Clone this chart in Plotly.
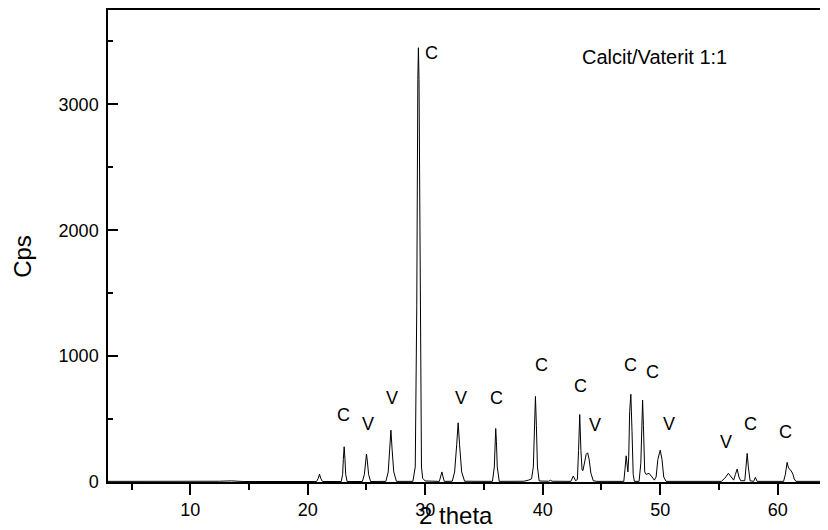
import plotly.graph_objects as go

# Diffractogram samples (2 theta in degrees, counts per second)
two_theta = [
    3.0, 6.0, 10.0, 12.5, 13.5, 14.5, 20.7,
    20.75, 20.9, 21.0, 21.1, 21.25,
    22.85, 22.97, 23.03, 23.1, 23.17, 23.23, 23.35,
    24.65, 24.82, 24.92, 25.0, 25.08, 25.18, 25.35,
    26.65, 26.85, 26.98, 27.08, 27.18, 27.32, 27.55,
    28.95, 29.15, 29.28, 29.37, 29.42, 29.47, 29.56, 29.68, 29.78, 29.85, 30.0,
    31.2, 31.32, 31.42, 31.52, 31.62,
    32.3, 32.5, 32.68, 32.8, 32.92, 33.1, 33.35,
    35.72, 35.88, 35.95, 36.0, 36.06, 36.13, 36.3,
    38.4, 38.8, 39.05, 39.2, 39.3, 39.38, 39.46, 39.55, 39.7,
    40.5, 40.65, 40.8,
    42.4, 42.6, 42.8,
    42.95, 43.05, 43.15, 43.25, 43.35, 43.42, 43.55, 43.7, 43.82, 43.95, 44.1, 44.3, 44.6,
    46.9, 47.0, 47.1, 47.25, 47.32, 47.4, 47.5, 47.6, 47.7, 47.8,
    48.2, 48.35, 48.45, 48.5, 48.57, 48.68, 48.8, 49.05, 49.3, 49.5, 49.65, 49.8, 50.0, 50.15, 50.3, 50.5,
    55.2, 55.5, 55.8, 56.05, 56.25, 56.4, 56.55, 56.7, 56.85, 57.2, 57.3, 57.4, 57.5, 57.65, 57.95, 58.1, 58.25,
    60.5, 60.65, 60.8, 60.92, 61.05, 61.2, 61.3, 61.4, 61.55, 64.3,
]
cps = [
    5, 4, 5, 6, 9, 4, 4,
    4, 30, 63, 30, 4,
    4, 60, 180, 280, 180, 60, 4,
    4, 60, 160, 222, 160, 60, 4,
    5, 80, 260, 412, 260, 80, 5,
    5, 120, 1400, 3200, 3450, 3200, 1400, 120, 30, 20, 8,
    5, 40, 80, 40, 5,
    6, 80, 300, 470, 300, 80, 6,
    5, 120, 320, 425, 320, 120, 5,
    6, 15, 25, 120, 450, 680, 450, 120, 8,
    6, 14, 6,
    5, 48, 10,
    20, 250, 536, 250, 95, 90, 150, 220, 232, 180, 70, 10, 5,
    5, 100, 208, 80, 200, 560, 697, 400, 60, 5,
    5, 150, 560, 650, 450, 80, 60, 69, 40, 15, 40, 180, 253, 180, 40, 5,
    5, 30, 69, 40, 15, 60, 103, 40, 10, 10, 120, 227, 120, 10, 5, 37, 5,
    5, 60, 156, 110, 100, 80, 60, 25, 5, 5,
]

# Phase labels (C = Calcit, V = Vaterit)
label_text = ["C", "C", "V", "V", "V", "C", "C", "C", "V", "C", "C", "V", "V", "C", "C"]
label_x = [30.51, 23.05, 25.09, 27.17, 33.04, 36.04, 39.93, 43.25, 44.47, 47.45, 49.32, 50.71, 55.59, 57.72, 60.70]
label_y = [3405, 536, 457, 667, 667, 667, 932, 762, 451, 926, 871, 459, 314, 457, 394]

sample_title = "Calcit/Vaterit 1:1"
x_title = "2 theta"
y_title = "Cps"
x_range = [3.0, 64.28]
y_range = [0, 3750]

FONT = "Liberation Sans, Arial, sans-serif"

fig = go.Figure()
fig.add_trace(go.Scatter(
    x=two_theta, y=cps, mode="lines",
    line=dict(color="black", width=1),
    showlegend=False, hoverinfo="x+y",
))

annotations = []
for t, xv, yv in zip(label_text, label_x, label_y):
    annotations.append(dict(
        x=xv, y=yv, xref="x", yref="y", text=t, showarrow=False,
        font=dict(family=FONT, size=18, color="black"),
        xanchor="center", yanchor="middle",
    ))
annotations.append(dict(
    x=43.19, y=3373, xref="x", yref="y", text=sample_title, showarrow=False,
    font=dict(family=FONT, size=20, color="black"),
    xanchor="left", yanchor="middle",
))
annotations.append(dict(
    x=0.483, y=-0.072, xref="paper", yref="paper", text=x_title, showarrow=False,
    font=dict(family=FONT, size=24, color="black"),
    xanchor="center", yanchor="middle",
))
annotations.append(dict(
    x=-0.1188, y=0.478, xref="paper", yref="paper", text=y_title, showarrow=False,
    font=dict(family=FONT, size=24, color="black"), textangle=-90,
    xanchor="center", yanchor="middle",
))

fig.update_layout(
    width=828, height=530,
    margin=dict(l=100, r=8, t=0, b=56),
    paper_bgcolor="white", plot_bgcolor="white",
    font=dict(family=FONT, size=18, color="black"),
    annotations=annotations,
    showlegend=False,
)
fig.update_xaxes(
    range=x_range, tick0=0, dtick=10,
    showgrid=False, zeroline=False,
    showline=True, linecolor="black", linewidth=1.5, mirror=True,
    ticks="outside", ticklen=11, tickwidth=1.5, tickcolor="black",
    minor=dict(ticks="outside", ticklen=6, tickwidth=1.5, tickcolor="black", dtick=5, tick0=0, showgrid=False),
    tickfont=dict(family=FONT, size=18, color="black"),
)
fig.update_yaxes(
    range=y_range, tick0=0, dtick=1000,
    showgrid=False, zeroline=False,
    showline=True, linecolor="black", linewidth=1.5, mirror=False,
    ticks="inside", ticklen=10, tickwidth=1.5, tickcolor="black",
    minor=dict(ticks="inside", ticklen=5, tickwidth=1.5, tickcolor="black", dtick=500, tick0=0, showgrid=False),
    tickfont=dict(family=FONT, size=18, color="black"),
    ticklabelstandoff=4,
)

fig.write_html("out.html")
